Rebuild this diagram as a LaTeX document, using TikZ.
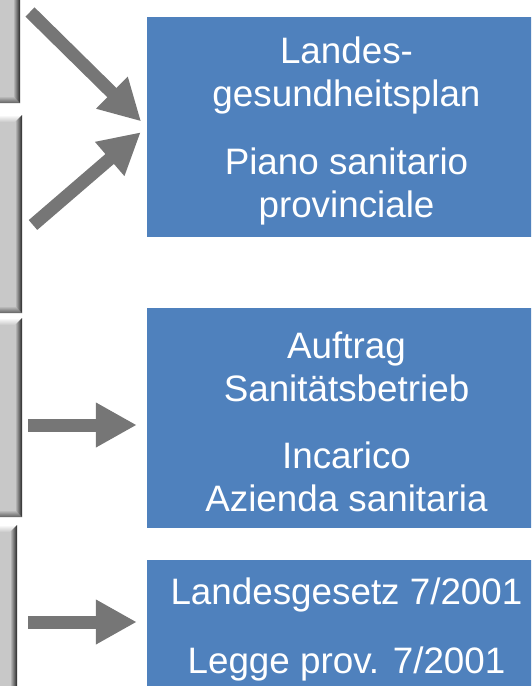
\documentclass[tikz,border=0pt]{standalone}
\usepackage{fontspec}
\setmainfont{Liberation Sans}
\usetikzlibrary{arrows.meta, positioning, calc}
\definecolor{boxblue}{HTML}{4F81BD}
\definecolor{arrowgray}{HTML}{767676}
\definecolor{barface}{HTML}{C8C8C8}
\tikzset{
	infobox/.style={fill=boxblue, text=white, align=center, minimum width=399pt, inner sep=0pt, font=\fontsize{36.8}{43}\selectfont}, % the blue boxes on the right
	bigarrow/.style={draw=arrowgray, line width=13pt, -{Triangle[length=41pt, width=42pt]}, shorten >=8pt}, % fat grey arrows
}
% bevelled grey bar on the left edge: top, bottom, right edge
\newcommand{\bevelbar}[3]{%
	\fill[barface] (-10,#1) rectangle (#3,#2);
	\shade[top color=white, bottom color=barface] (-10,#1) -- (#3,#1) -- (#3-7,#1+7) -- (-10,#1+7) -- cycle;
	\shade[top color=barface, bottom color=gray!75!black] (-10,#2-7) -- (#3-7,#2-7) -- (#3,#2) -- (-10,#2) -- cycle;
	\shade[left color=barface, right color=black!85] (#3-7,#1+7) -- (#3,#1) -- (#3,#2) -- (#3-7,#2-7) -- cycle;
}
\newcommand{\topstrut}{\rule{0pt}{34pt}} % pushes the text a little down

\begin{document}
\begin{tikzpicture}[x=1pt, y=-1pt]
	\clip (0,0) rectangle (531,686);

	% bars on the left
	\bevelbar{-10}{103}{20}
	\bevelbar{115}{313}{22}
	\bevelbar{318}{517}{22}
	\bevelbar{525}{700}{17}

	% boxes
	\node[infobox, minimum height=220pt] (plan) at (346.5,127) {\topstrut Landes-\\gesundheitsplan\\[25pt]Piano sanitario\\provinciale};
	\node[infobox, minimum height=220pt] (auftrag) at (346.5,418) {\topstrut Auftrag\\Sanitätsbetrieb\\[24pt]Incarico\\Azienda sanitaria};
	\node[infobox, minimum height=132pt] (gesetz) at (346.5,626) {\topstrut Landesgesetz 7/2001\\[26pt]Legge prov. 7/2001};

	% arrows
	\coordinate (t1) at (30,12);
	\coordinate (t2) at (33,225);
	\coordinate (t3) at (28,425);
	\coordinate (t4) at (28,622);
	\draw[bigarrow] (t1) -- (plan.west);
	\draw[bigarrow] (t2) -- (plan.west);
	\draw[bigarrow, shorten >=10pt] (t3) -- (t3 -| auftrag.west);
	\draw[bigarrow, shorten >=10pt] (t4) -- (t4 -| gesetz.west);
\end{tikzpicture}
\end{document}
